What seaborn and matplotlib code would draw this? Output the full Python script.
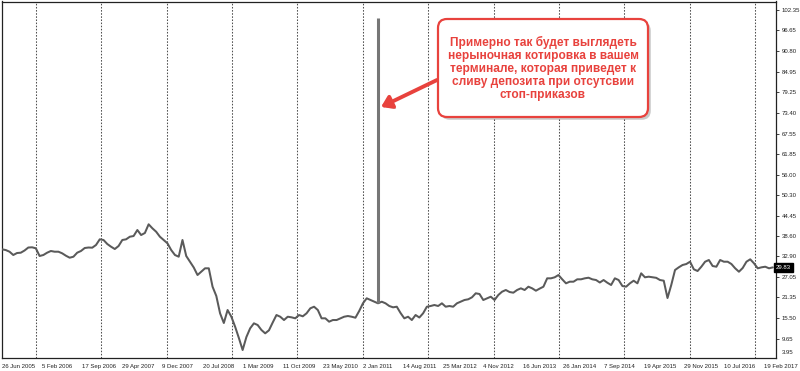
import numpy as np
import pandas as pd
import matplotlib
matplotlib.use("Agg")
import matplotlib.pyplot as plt
import matplotlib.transforms as mtransforms
import matplotlib.patheffects as pe
from matplotlib.patches import FancyBboxPatch, FancyArrowPatch
import seaborn as sns

# ---------------- data ----------------
start_date = "2005-06-26"
step_days = 21
prices = [
    34.92, 34.72, 34.25, 33.32, 33.88, 33.97, 34.59, 35.43, 35.49, 35.21,
    33.04, 33.32, 33.97, 34.45, 34.25, 34.25, 33.80, 33.12, 32.56, 32.84,
    33.97, 34.45, 35.29, 35.43, 35.38, 36.14, 37.74, 37.55, 36.42, 35.66,
    35.01, 35.85, 37.55, 37.74, 38.47, 38.67, 40.36, 38.95, 39.52, 41.97,
    40.84, 39.88, 38.47, 37.55, 36.62, 34.72, 33.32, 32.84, 37.55, 33.04,
    31.43, 29.80, 27.68, 28.61, 29.57, 29.57, 24.39, 21.77, 16.89, 14.16,
    17.82, 15.93, 13.12, 9.93, 6.55, 10.21, 12.66, 14.07, 13.59, 12.19,
    11.25, 12.10, 14.30, 16.41, 15.93, 15.00, 15.93, 15.76, 15.48, 16.41,
    16.05, 16.89, 18.30, 18.75, 17.82, 15.48, 15.48, 14.53, 15.00, 15.00,
    15.48, 15.93, 16.13, 15.93, 15.65, 17.54, 19.71, 21.12, 20.64, 20.16,
    19.71, 20.16, 19.71, 18.95, 18.58, 18.75, 16.98, 15.48, 15.93, 15.00,
    16.41, 15.71, 16.89, 18.75, 18.95, 19.23, 18.95, 19.71, 18.75, 18.95,
    18.75, 19.71, 20.16, 20.64, 20.84, 21.40, 22.53, 22.33, 20.64, 21.12,
    21.57, 20.64, 22.05, 22.98, 23.46, 22.89, 22.70, 23.46, 23.93, 23.46,
    24.39, 23.93, 23.26, 23.85, 24.39, 26.75, 26.75, 27.04, 27.68, 26.47,
    25.34, 25.80, 25.80, 26.47, 26.47, 26.75, 26.92, 26.47, 26.27, 25.57,
    26.27, 25.51, 24.87, 26.75, 26.27, 24.58, 24.39, 25.34, 26.08, 25.34,
    28.16, 27.04, 27.21, 27.04, 26.89, 26.27, 26.08, 21.20, 24.87, 29.09,
    29.85, 30.50, 30.78, 31.43, 29.29, 28.81, 30.02, 31.43, 31.91, 30.22,
    30.02, 31.91, 31.43, 31.43, 30.78, 29.57, 28.61, 29.66, 31.43, 32.11,
    30.98, 29.57, 29.85, 30.02, 29.57, 29.83,
]
spike_date = "2011-03-27"
spike_low = 19.7
spike_high = 100.0
last_price = 29.83

y_tick_values = [9.65, 15.50, 21.35, 27.05, 32.90, 38.60, 44.45, 50.30, 56.00,
                 61.85, 67.55, 73.40, 79.25, 84.95, 90.80, 96.65, 102.35]
y_bottom_label = "3.95"
y_limits = (4.44, 104.75)

x_tick_labels = ["26 Jun 2005", "5 Feb 2006", "17 Sep 2006", "29 Apr 2007", "9 Dec 2007",
                 "20 Jul 2008", "1 Mar 2009", "11 Oct 2009", "23 May 2010", "2 Jan 2011",
                 "14 Aug 2011", "25 Mar 2012", "4 Nov 2012", "16 Jun 2013", "26 Jan 2014",
                 "7 Sep 2014", "19 Apr 2015", "29 Nov 2015", "10 Jul 2016", "19 Feb 2017"]
x_end_date = "2017-04-27"
grid_years = list(range(2006, 2018))

note_text = ("Примерно так будет выглядеть\nнерыночная котировка в вашем\n"
             "терминале, которая приведет к\nсливу депозита при отсутсвии\nстоп-приказов")

# ---------------- figure ----------------
sns.set_style("white")
plt.rcParams["font.family"] = ["Liberation Sans", "DejaVu Sans"]

W, H = 800, 371
fig = plt.figure(figsize=(W / 100, H / 100), dpi=100)
fig.patch.set_facecolor("white")
ax = fig.add_axes([2 / W, 13.5 / H, 774 / W, 356 / H])

dates = pd.date_range(start_date, periods=len(prices), freq=f"{step_days}D")
df = pd.DataFrame({"date": dates, "price": prices})

for yr in grid_years:
    ax.axvline(pd.Timestamp(f"{yr}-01-01"), color="#505050", lw=0.75,
               linestyle=(0, (1.5, 1.5)), zorder=1)

sns.lineplot(data=df, x="date", y="price", ax=ax, color="#5a5a5a", lw=1.45, zorder=3)
ax.vlines(pd.Timestamp(spike_date), spike_low, spike_high, color="#767676", lw=2.2, zorder=3)

ax.set_xlim(pd.Timestamp(start_date), pd.Timestamp(x_end_date))
ax.set_ylim(*y_limits)
ax.set_xlabel("")
ax.set_ylabel("")

tick_dates = pd.to_datetime(x_tick_labels, format="%d %b %Y")
ax.set_xticks(tick_dates)
ax.set_xticklabels(x_tick_labels, ha="left")
ax.yaxis.tick_right()
ax.set_yticks(y_tick_values)
ax.set_yticklabels([f"{v:.2f}" for v in y_tick_values])
ax.tick_params(axis="both", which="both", labelsize=4.3, colors="#222222",
               length=2.5, width=0.6, pad=1.5, direction="out")
ax.tick_params(axis="x", pad=2)

for s in ax.spines.values():
    s.set_color("#222222")
    s.set_linewidth(0.9)

# bottom label of price scale
ax.annotate(y_bottom_label, xy=(1.0, 0.0), xycoords="axes fraction",
            xytext=(4, 2), textcoords="offset points", ha="left", va="bottom",
            fontsize=4.3, color="#222222")

# current price tag
ax.annotate(f"{last_price:.2f}", xy=(1.0, last_price),
            xycoords=("axes fraction", "data"), xytext=(0, 0),
            textcoords="offset points", ha="left", va="center",
            fontsize=4.3, color="white", zorder=10,
            bbox=dict(boxstyle="square,pad=0.35", fc="black", ec="black"))

# ---------------- callout ----------------
ident = mtransforms.IdentityTransform()
red = "#e8423d"
shadow = [pe.SimplePatchShadow(offset=(2, -2), alpha=0.3), pe.Normal()]

box = FancyBboxPatch((438, H - 117), 210, 98,
                     boxstyle="round,pad=0,rounding_size=9",
                     transform=ident, fc="white", ec=red, lw=1.6, zorder=20)
box.set_path_effects(shadow)
fig.add_artist(box)

fig.text(543 / W, 1 - 68.5 / H, note_text, ha="center", va="center",
         color=red, fontsize=8.6, fontweight="bold", linespacing=1.1, zorder=21)

arrow = FancyArrowPatch((437, H - 80), (381, H - 107), transform=ident,
                        arrowstyle="-|>,head_length=6,head_width=4",
                        mutation_scale=1, color=red, lw=2.8, zorder=19,
                        shrinkA=0, shrinkB=0)
arrow.set_path_effects([pe.SimplePatchShadow(offset=(1.5, -1.5), alpha=0.3), pe.Normal()])
fig.add_artist(arrow)

fig.savefig("out.png", dpi=100, facecolor="white")
